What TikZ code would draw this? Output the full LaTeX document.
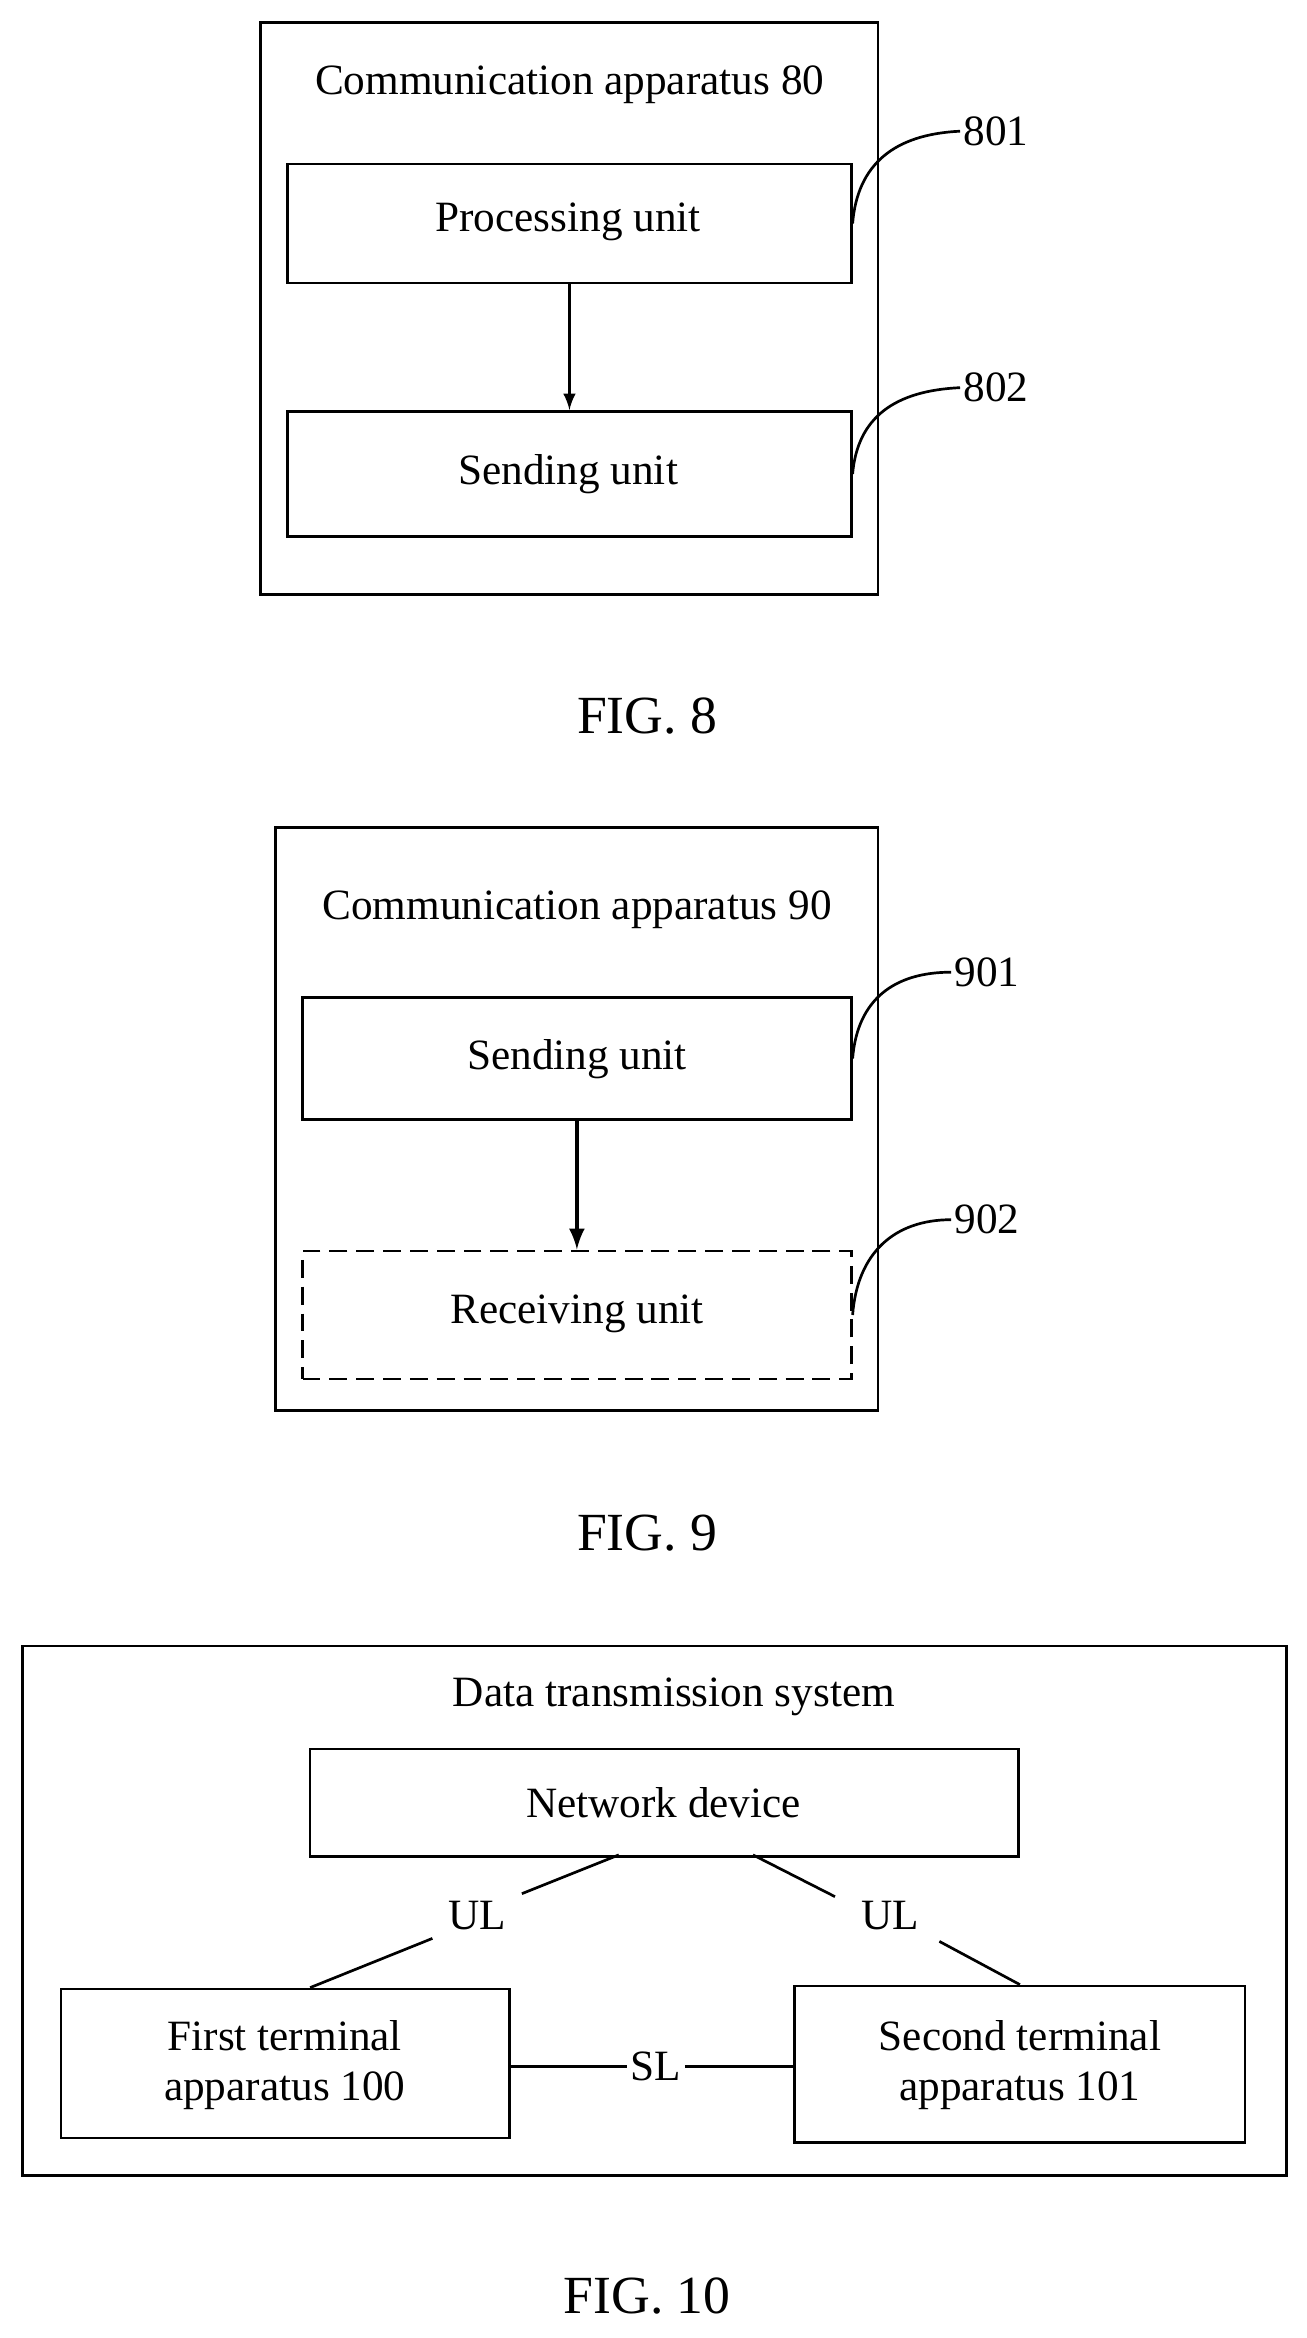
\documentclass[tikz,border=0pt]{standalone}
\usepackage{fontspec}
\setmainfont{Liberation Serif}
\begin{document}
\begin{tikzpicture}[x=0.5pt,y=-0.5pt,
  box/.style={draw,line width=0.9pt,anchor=north west,inner sep=0},
  txt/.style={font=\fontsize{14.5}{17}\selectfont,inner sep=1pt},
  fig/.style={font=\fontsize{18}{21}\selectfont},
  lead/.style={line width=0.9pt},
  arr/.style={-latex,line width=0.9pt}]
\useasboundingbox (0,0) rectangle (876,1568);
% FIG 8
\node[box,minimum width=207pt,minimum height=192pt] (o8) at (174,14) {};
\node[txt] (t8) at (382,57) {Communication apparatus 80};
\node[box,minimum width=189pt,minimum height=40pt] (p8) at (192,109) {};
\node[txt] at (381,149) {Processing unit};
\node[box,minimum width=189pt,minimum height=42pt] (s8) at (192,275) {};
\node[txt] at (381,318) {Sending unit};
\draw[arr] (p8.south) -- (s8.north);
\node[txt] (l801) at (668,88) {801};
\node[txt] (l802) at (668,260) {802};
\draw[lead] (p8.east) .. controls (575,110) and (600,90) .. (l801.west);
\draw[lead] (s8.east) .. controls (575,280) and (600,262) .. (l802.west);
\node[fig] at (434,480) {FIG. 8};
% FIG 9
\node[box,minimum width=202pt,minimum height=195.5pt] (o9) at (184,554) {};
\node[txt] (t9) at (387,610) {Communication apparatus 90};
\node[box,minimum width=184pt,minimum height=41pt] (p9) at (202,668) {};
\node[txt] at (387,710) {Sending unit};
\node[box,dashed,dash pattern=on 6pt off 3pt,minimum width=184pt,minimum height=43pt] (s9) at (202,838) {};
\node[txt] at (387,881) {Receiving unit};
\draw[arr,line width=1.4pt] (p9.south) -- (s9.north);
\node[txt] (l901) at (662,652) {901};
\node[txt] (l902) at (662,818) {902};
\draw[lead] (p9.east) .. controls (575,670) and (600,652) .. (l901.west);
\draw[lead] (s9.east) .. controls (575,840) and (600,818) .. (l902.west);
\node[fig] at (434,1028) {FIG. 9};
% FIG 10
\node[box,minimum width=424pt,minimum height=177.5pt] (o10) at (14,1103) {};
\node[txt] at (452,1138) {Data transmission system};
\node[box,minimum width=237.5pt,minimum height=36pt] (nd) at (207,1172) {};
\node[txt] at (445,1209) {Network device};
\node[box,minimum width=150.5pt,minimum height=50pt] (ft) at (40,1333) {};
\node[txt,align=center] at (191,1385) {First terminal\\apparatus 100};
\node[box,minimum width=151pt,minimum height=52.5pt] (st) at (532,1331) {};
\node[txt,align=center] at (684,1385) {Second terminal\\apparatus 101};
\node[txt] (ul1) at (320,1285) {UL};
\node[txt] (ul2) at (597,1285) {UL};
\node[txt] (sl) at (440,1386) {SL};
\coordinate (a1) at (415,1244); \coordinate (a2) at (505,1244);
\coordinate (b1) at (208,1333); \coordinate (b2) at (684,1331);
\draw[lead] (a1) -- (350,1270);
\draw[lead] (290,1300) -- (b1);
\draw[lead] (a2) -- (560,1272);
\draw[lead] (630,1302) -- (b2);
\draw[lead] (ft.east |- sl) -- (sl.west);
\draw[lead] (sl.east) -- (st.west |- sl);
\node[fig] at (434,1540) {FIG. 10};
\end{tikzpicture}
\end{document}
